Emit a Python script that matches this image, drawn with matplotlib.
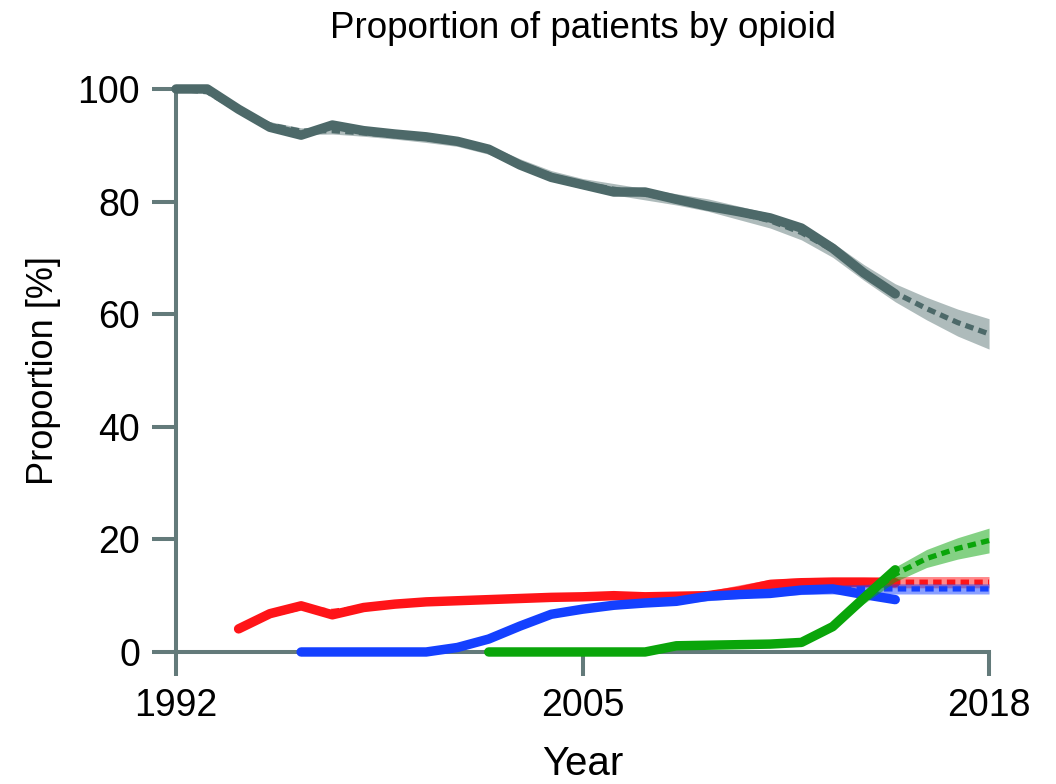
import numpy as np
import matplotlib
matplotlib.use("Agg")
import matplotlib.pyplot as plt

plt.rcParams['font.family'] = ['Liberation Sans', 'DejaVu Sans']

# observed proportions (solid lines)
gray_years = list(range(1992, 2016))
gray_obs = [100, 100, 96.4, 93.2, 91.8, 93.6, 92.6, 92.0, 91.5, 90.7, 89.3, 86.5,
            84.3, 83.0, 81.7, 81.7, 80.4, 79.2, 78.2, 77.1, 75.3, 71.7, 67.3, 63.6]
red_years = list(range(1994, 2016))
red_obs = [4.1, 6.8, 8.2, 6.6, 7.9, 8.5, 8.9, 9.1, 9.3, 9.5, 9.7, 9.8, 10.0, 9.8,
           9.9, 10.0, 10.8, 12.0, 12.3, 12.4, 12.4, 12.3]
blue_years = list(range(1996, 2016))
blue_obs = [0, 0, 0, 0, 0, 0.8, 2.3, 4.6, 6.7, 7.6, 8.3, 8.7, 9.0, 9.9, 10.2,
            10.4, 11.0, 11.2, 10.2, 9.3]
green_years = list(range(2002, 2016))
green_obs = [0, 0, 0, 0, 0, 0, 1.1, 1.2, 1.3, 1.4, 1.7, 4.5, 9.6, 14.6]

# model fit (dashed lines) with half-width of the shaded band
gray_myears = list(range(1992, 2019))
gray_fit = [100, 99.5, 96.2, 93.6, 92.5, 92.6, 92.2, 91.7, 91.2, 90.5, 89.2, 86.8,
            84.6, 83.2, 82.2, 81.3, 80.4, 79.4, 78.0, 76.6, 74.5, 71.4, 67.4, 63.8,
            61.0, 58.5, 56.5]
gray_ci = [0, 0.3, 0.5, 0.6, 0.6, 0.6, 0.6, 0.6, 0.7, 0.7, 0.8, 0.8, 0.9, 0.9,
           1.0, 1.0, 1.0, 1.1, 1.2, 1.3, 1.3, 1.3, 1.4, 1.6, 2.0, 2.4, 2.7]
red_myears = list(range(1994, 2019))
red_fit = [4.3, 6.6, 7.9, 7.2, 7.9, 8.5, 8.9, 9.1, 9.3, 9.5, 9.7, 9.8, 9.9, 9.9,
           10.0, 10.1, 10.9, 12.0, 12.3, 12.4, 12.4, 12.4, 12.4, 12.4, 12.4]
red_ci = [0.4, 0.4, 0.4, 0.4, 0.4, 0.4, 0.4, 0.4, 0.4, 0.4, 0.5, 0.5, 0.5, 0.5,
          0.6, 0.7, 1.0, 0.9, 0.9, 0.9, 0.9, 1.0, 1.0, 1.0, 1.0]
blue_myears = list(range(1996, 2019))
blue_fit = [0, 0, 0, 0, 0.1, 0.8, 2.3, 4.5, 6.5, 7.5, 8.2, 8.7, 9.1, 9.7, 10.1,
            10.5, 10.9, 11.1, 11.2, 11.2, 11.2, 11.2, 11.2]
blue_ci = [0.1, 0.1, 0.1, 0.1, 0.1, 0.2, 0.3, 0.4, 0.4, 0.4, 0.5, 0.5, 0.5, 0.6,
           0.6, 0.6, 0.7, 0.8, 0.8, 0.9, 0.9, 0.9, 0.9]
green_myears = list(range(2002, 2019))
green_fit = [0, 0, 0, 0, 0, 0, 1.0, 1.2, 1.3, 1.4, 1.8, 4.6, 9.5, 13.8, 16.6,
             18.4, 19.8]
green_ci = [0.1, 0.1, 0.1, 0.1, 0.1, 0.1, 0.2, 0.2, 0.2, 0.3, 0.3, 0.5, 0.9, 1.3,
            1.6, 1.9, 2.2]

series = [
    (gray_years, gray_obs, gray_myears, gray_fit, gray_ci, '#4d6969', 0.45),
    (red_years, red_obs, red_myears, red_fit, red_ci, '#ff1418', 0.5),
    (blue_years, blue_obs, blue_myears, blue_fit, blue_ci, '#1440ff', 0.5),
    (green_years, green_obs, green_myears, green_fit, green_ci, '#0aa50a', 0.5),
]

axis_col = '#637a7a'

fig = plt.figure(figsize=(10.56, 7.84), dpi=100)
ax = fig.add_axes([0.1667, 0.1684, 0.7699, 0.7181])

for z, (yrs, obs, myrs, fit, ci, col, a) in enumerate(series):
    fit = np.array(fit)
    ci = np.array(ci)
    ax.fill_between(myrs, fit - ci, fit + ci, color=col, alpha=a, lw=0,
                    zorder=2 + z * 3)
    ax.plot(myrs, fit, color=col, lw=3.8, dashes=(1.6, 1.0),
            zorder=3 + z * 3, clip_on=False)
    ax.plot(yrs, obs, color=col, lw=6.8, solid_capstyle='round',
            solid_joinstyle='round', zorder=4 + z * 3, clip_on=False)

ax.set_xlim(1992, 2018)
ax.set_ylim(0, 100)
ax.set_xticks([1992, 2005, 2018])
ax.set_yticks([0, 20, 40, 60, 80, 100])

for s in ['top', 'right']:
    ax.spines[s].set_visible(False)
for s in ['left', 'bottom']:
    ax.spines[s].set_color(axis_col)
    ax.spines[s].set_linewidth(2.9)
ax.tick_params(direction='out', length=17, width=2.9, color=axis_col,
               labelsize=27, pad=9)

ax.set_title('Proportion of patients by opioid', fontsize=26.5, pad=37)
ax.set_xlabel('Year', fontsize=29, labelpad=15)
ax.set_ylabel('Proportion [%]', fontsize=26, labelpad=12)

fig.savefig('out.png', dpi=100)
